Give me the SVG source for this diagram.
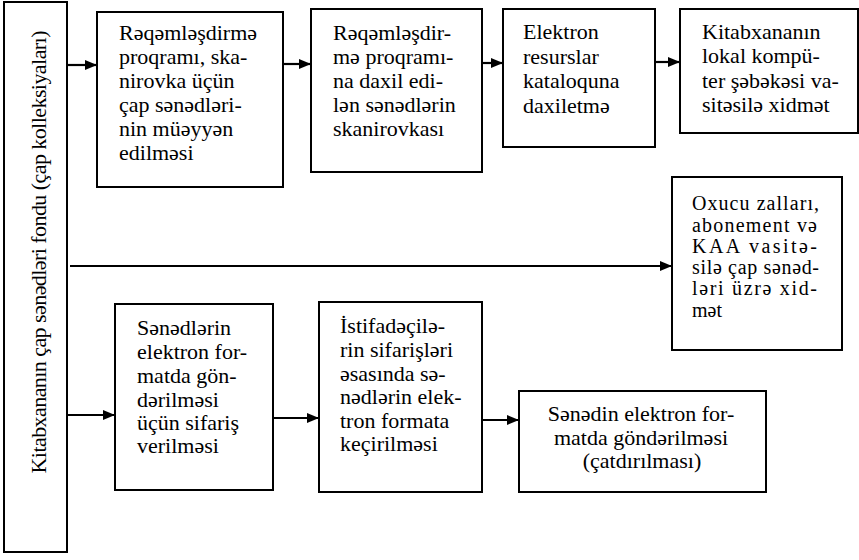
<svg xmlns="http://www.w3.org/2000/svg" width="859" height="560" viewBox="0 0 859 560">
<defs>
<marker id="ah" viewBox="0 0 12 10" refX="12" refY="5" markerWidth="12" markerHeight="10" markerUnits="userSpaceOnUse" orient="auto">
<path d="M0,0 L12,5 L0,10 Z" fill="#000"/>
</marker>
<style>
.box{fill:#fff;stroke:#000;stroke-width:2}
.t{font-family:"Liberation Serif","DejaVu Serif",serif;font-size:22px;fill:#000}
.s{font-size:20px}
.c{stroke:#000;stroke-width:2.2;fill:none;marker-end:url(#ah)}
</style>
</defs>
<g id="connectors">
<line class="c" x1="67" y1="65" x2="97" y2="65"/>
<line class="c" x1="283" y1="64" x2="311" y2="64"/>
<line class="c" x1="482" y1="63" x2="503" y2="63"/>
<line class="c" x1="655" y1="62" x2="680" y2="62"/>
<line class="c" x1="70" y1="266" x2="672" y2="266"/>
<line class="c" x1="67" y1="415" x2="115" y2="415"/>
<line class="c" x1="273" y1="418" x2="319" y2="418"/>
<line class="c" x1="482" y1="420" x2="519" y2="420"/>
</g>
<g id="fund">
<rect class="box" x="4" y="2" width="63" height="550"/>
<text class="t" transform="translate(46,252) rotate(-90)" text-anchor="middle" textLength="443" lengthAdjust="spacing">Kitabxananın çap sənədləri fondu (çap kolleksiyaları)</text>
</g>
<g id="n1">
<rect class="box" x="97" y="12" width="186" height="175"/>
<text class="t" x="119" y="40">Rəqəmləşdirmə</text>
<text class="t" x="119" y="64">proqramı, ska-</text>
<text class="t" x="119" y="88">nirovka üçün</text>
<text class="t" x="119" y="112">çap sənədləri-</text>
<text class="t" x="119" y="136">nin müəyyən</text>
<text class="t" x="119" y="160">edilməsi</text>
</g>
<g id="n2">
<rect class="box" x="311" y="9" width="171" height="163"/>
<text class="t" x="333" y="40">Rəqəmləşdir-</text>
<text class="t" x="333" y="64">mə proqramı-</text>
<text class="t" x="333" y="88">na daxil edi-</text>
<text class="t" x="333" y="112">lən sənədlərin</text>
<text class="t" x="333" y="136">skanirovkası</text>
</g>
<g id="n3">
<rect class="box" x="503" y="9" width="152" height="138"/>
<text class="t" x="523" y="39">Elektron</text>
<text class="t" x="523" y="64">resurslar</text>
<text class="t" x="523" y="88">kataloquna</text>
<text class="t" x="523" y="113">daxiletmə</text>
</g>
<g id="n4">
<rect class="box" x="680" y="9" width="178" height="124"/>
<text class="t" x="702" y="39">Kitabxananın</text>
<text class="t" x="702" y="63">lokal kompü-</text>
<text class="t" x="702" y="88">ter şəbəkəsi va-</text>
<text class="t" x="702" y="112">sitəsilə xidmət</text>
</g>
<g id="n5">
<rect class="box" x="672" y="177" width="170" height="173"/>
<text class="t s" x="692" y="210" textLength="127" lengthAdjust="spacing">Oxucu zalları,</text>
<text class="t s" x="692" y="232" textLength="125" lengthAdjust="spacing">abonement və</text>
<text class="t s" x="692" y="253" textLength="125" lengthAdjust="spacing">KAA vasitə-</text>
<text class="t s" x="692" y="274" textLength="127" lengthAdjust="spacing">silə çap sənəd-</text>
<text class="t s" x="692" y="295" textLength="125" lengthAdjust="spacing">ləri üzrə xid-</text>
<text class="t s" x="692" y="317">mət</text>
</g>
<g id="n6">
<rect class="box" x="115" y="304" width="158" height="186"/>
<text class="t" x="137" y="335">Sənədlərin</text>
<text class="t" x="137" y="359">elektron for-</text>
<text class="t" x="137" y="383">matda gön-</text>
<text class="t" x="137" y="407">dərilməsi</text>
<text class="t" x="137" y="430">üçün sifariş</text>
<text class="t" x="137" y="453">verilməsi</text>
</g>
<g id="n7">
<rect class="box" x="319" y="302" width="163" height="190"/>
<text class="t" x="340" y="333">İstifadəçilə-</text>
<text class="t" x="340" y="357">rin sifarişləri</text>
<text class="t" x="340" y="381">əsasında sə-</text>
<text class="t" x="340" y="404">nədlərin elek-</text>
<text class="t" x="340" y="428">tron formata</text>
<text class="t" x="340" y="451">keçirilməsi</text>
</g>
<g id="n8">
<rect class="box" x="519" y="391" width="247" height="101"/>
<text class="t" x="641" y="421" text-anchor="middle">Sənədin elektron for-</text>
<text class="t" x="641" y="444.5" text-anchor="middle">matda göndərilməsi</text>
<text class="t" x="642" y="468" text-anchor="middle">(çatdırılması)</text>
</g>
</svg>
